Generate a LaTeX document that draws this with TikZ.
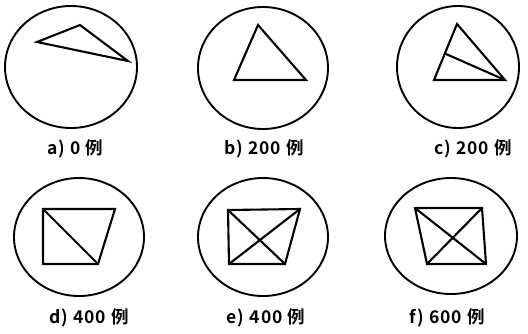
\documentclass[tikz,border=0pt]{standalone}
\usepackage{fontspec}
\setmainfont{Noto Sans CJK SC}[BoldFont={Noto Sans CJK SC Bold}]
\begin{document}
\begin{tikzpicture}[x=1pt,y=-1pt,
  ring/.style={line width=1.9pt},
  fig/.style={line width=2.1pt, line join=miter},
  lab/.style={font=\fontsize{17.5}{20}\selectfont\bfseries\addfontfeature{LetterSpace=6}, inner sep=0pt}]
\useasboundingbox (0,0) rectangle (528,333);
% a
\draw[ring] (71,67) ellipse [x radius=66, y radius=61];
\draw[fig] (37,42) -- (80,25) -- (128,61) -- cycle;
\node[lab] (la) at (75,149) {a) 0 例};
% b
\draw[ring] (263,68) ellipse [x radius=65, y radius=61];
\draw[fig] (258,25) -- (234,80) -- (306,80) -- cycle;
\node[lab] (lb) at (264,149) {b) 200 例};
% c
\draw[ring] (458,67) ellipse [x radius=61, y radius=61];
\coordinate (cA) at (457,24);
\coordinate (cB) at (434,80);
\coordinate (cC) at (505,80);
\draw[fig] (cA) -- (cB) -- (cC) -- cycle;
\draw[fig] (446,54) -- (cC);
\node[lab] (lc) at (473,149) {c) 200 例};
% d
\draw[ring] (79,237) ellipse [x radius=65, y radius=59];
\draw[fig] (43,209) -- (115,209) -- (98,264) -- (43,264) -- cycle;
\draw[fig] (43,209) -- (98,264);
\node[lab] (ld) at (89,318) {d) 400 例};
% e
\draw[ring] (263,237) ellipse [x radius=65, y radius=59];
\draw[fig] (228,210) -- (300,209) -- (285,264) -- (229,264) -- cycle;
\draw[fig] (228,210) -- (285,264);
\draw[fig] (300,209) -- (229,264);
\node[lab] (le) at (266,318) {e) 400 例};
% f
\draw[ring] (451,236) ellipse [x radius=66, y radius=58];
\draw[fig] (415,208) -- (482,208) -- (486,264) -- (427,264) -- cycle;
\draw[fig] (415,208) -- (486,264);
\draw[fig] (482,208) -- (427,264);
\node[lab] (lf) at (447,318) {f) 600 例};
\end{tikzpicture}
\end{document}
